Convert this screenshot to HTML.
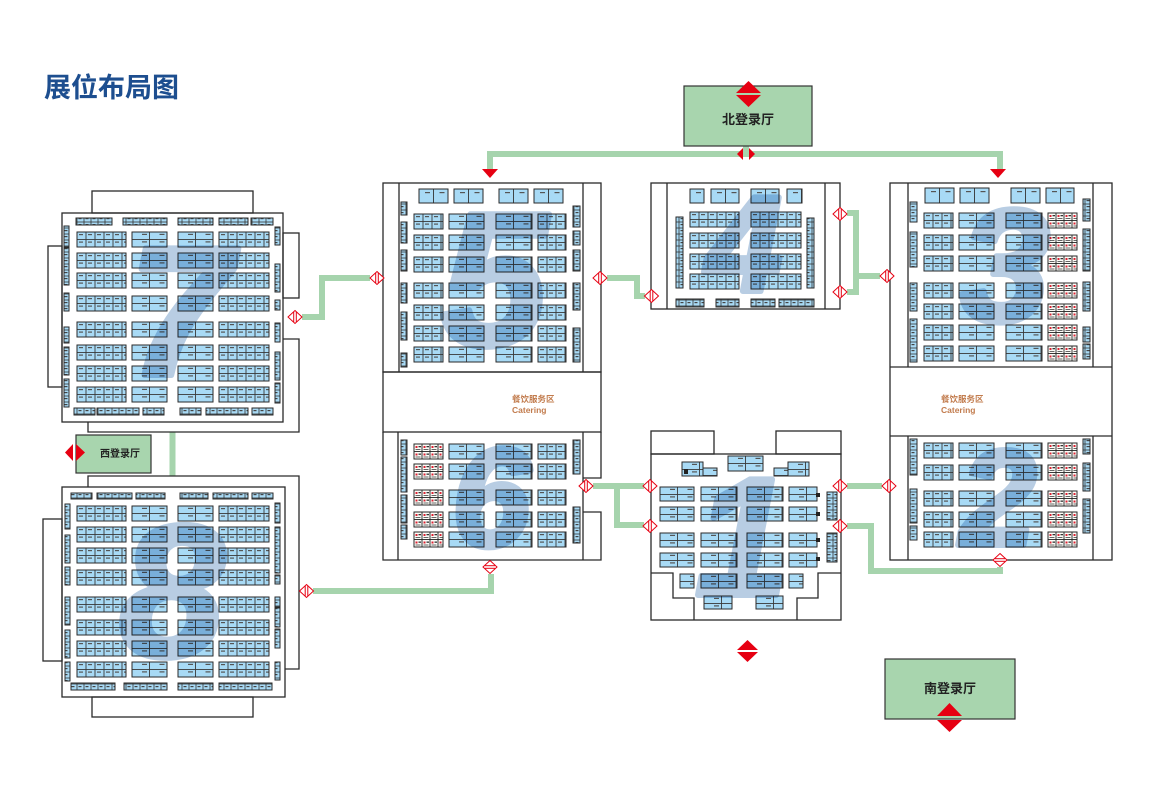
<!DOCTYPE html>
<html><head><meta charset="utf-8"><style>
html,body{margin:0;padding:0;background:#fff;}
svg{display:block;}
.o{fill:none;stroke:#2a2a2a;stroke-width:1.3;}
.b{stroke:#2a2a2a;stroke-width:1;}
.g{fill:none;stroke:#a6d4ad;stroke-width:6;}
.num{font-family:"Liberation Sans",sans-serif;font-weight:bold;font-style:italic;fill:#b8cde3;stroke:#b8cde3;stroke-width:6;stroke-linejoin:round;mix-blend-mode:multiply;text-anchor:middle;}
.lob{fill:#a8d5ae;stroke:#333;stroke-width:1.2;}
.lt{font-family:"Liberation Sans","Noto Sans CJK SC",sans-serif;font-weight:bold;fill:#222;text-anchor:middle;}
.cat{font-family:"Liberation Sans","Noto Sans CJK SC",sans-serif;font-weight:bold;fill:#c27c4e;font-size:8.5px;}
</style></head><body>
<svg width="1156" height="789" viewBox="0 0 1156 789" xmlns="http://www.w3.org/2000/svg">
<defs>
<pattern id="pc" width="9" height="7.5" patternUnits="userSpaceOnUse"><rect width="9" height="7.5" fill="#a8daf5" stroke="#3a3a3a" stroke-width="0.9"/><rect x="2" y="2" width="4" height="1.2" fill="#555"/></pattern>
<pattern id="pb" width="17.5" height="7.5" patternUnits="userSpaceOnUse"><rect width="17.5" height="7.5" fill="#a8daf5" stroke="#3a3a3a" stroke-width="0.9"/><rect x="10" y="1.8" width="5" height="1.2" fill="#555"/></pattern>
<pattern id="pw" width="8" height="7.5" patternUnits="userSpaceOnUse"><rect width="8" height="7.5" fill="#fdfdf8" stroke="#222" stroke-width="0.9"/><rect x="1.5" y="2" width="2" height="2" fill="#d23"/><rect x="4.5" y="2" width="2.5" height="1.3" fill="#333"/><rect x="1.5" y="5" width="5" height="1" fill="#666"/></pattern>
<pattern id="ps" width="7" height="6" patternUnits="userSpaceOnUse"><rect width="7" height="6" fill="#a8daf5" stroke="#333" stroke-width="0.8"/><rect x="1.5" y="2" width="3" height="1.2" fill="#444"/></pattern>
<pattern id="pt" width="14.5" height="15" patternUnits="userSpaceOnUse"><rect width="14.5" height="15" fill="#a8daf5" stroke="#333" stroke-width="0.9"/><rect x="6" y="3" width="5" height="1.2" fill="#555"/></pattern>
<g id="r7"><rect class="b" transform="translate(77,0)" width="49" height="15" fill="url(#pc)"/><rect class="b" transform="translate(132,0)" width="35" height="15" fill="url(#pb)"/><rect class="b" transform="translate(178,0)" width="35" height="15" fill="url(#pb)"/><rect class="b" transform="translate(219,0)" width="50" height="15" fill="url(#pc)"/></g>
<g id="r5"><rect class="b" transform="translate(414,0)" width="29" height="15" fill="url(#pc)"/><rect class="b" transform="translate(449,0)" width="35" height="15" fill="url(#pb)"/><rect class="b" transform="translate(496,0)" width="36" height="15" fill="url(#pb)"/><rect class="b" transform="translate(538,0)" width="28" height="15" fill="url(#pc)"/></g>
<g id="r6"><rect class="b" transform="translate(414,0)" width="29" height="15" fill="url(#pw)"/><rect class="b" transform="translate(449,0)" width="35" height="15" fill="url(#pb)"/><rect class="b" transform="translate(496,0)" width="36" height="15" fill="url(#pb)"/><rect class="b" transform="translate(538,0)" width="28" height="15" fill="url(#pc)"/></g>
<g id="r3"><rect class="b" transform="translate(924,0)" width="29" height="15" fill="url(#pc)"/><rect class="b" transform="translate(959,0)" width="35" height="15" fill="url(#pb)"/><rect class="b" transform="translate(1006,0)" width="36" height="15" fill="url(#pb)"/><rect class="b" transform="translate(1048,0)" width="29" height="15" fill="url(#pw)"/></g>
<g id="r4"><rect class="b" transform="translate(690,0)" width="49" height="15" fill="url(#pc)"/><rect class="b" transform="translate(751,0)" width="50" height="15" fill="url(#pc)"/></g>
<g id="r1"><rect class="b" transform="translate(660,0)" width="34" height="14" fill="url(#pb)"/><rect class="b" transform="translate(701,0)" width="36" height="14" fill="url(#pb)"/><rect class="b" transform="translate(747,0)" width="36" height="14" fill="url(#pb)"/><rect class="b" transform="translate(789,0)" width="28" height="14" fill="url(#pb)"/></g>
<g id="dv"><polygon points="0,-6.5 7,0 0,6.5 -7,0" fill="#fff" stroke="#e60012" stroke-width="1"/><line x1="-1.3" y1="-5" x2="-1.3" y2="5" stroke="#e60012" stroke-width="1"/><line x1="1.3" y1="-5" x2="1.3" y2="5" stroke="#e60012" stroke-width="1"/></g>
<g id="dh"><polygon points="0,-6.5 7,0 0,6.5 -7,0" fill="#fff" stroke="#e60012" stroke-width="1"/><line x1="-5" y1="-1.3" x2="5" y2="-1.3" stroke="#e60012" stroke-width="1"/><line x1="-5" y1="1.3" x2="5" y2="1.3" stroke="#e60012" stroke-width="1"/></g>
</defs>

<!-- title -->
<text x="44" y="97" font-family="'Liberation Sans','Noto Sans CJK SC',sans-serif" font-weight="bold" font-size="27" fill="#1d4e8f">展位布局图</text>

<!-- green connectors -->
<path class="g" d="M302,317 H322 V278 H370"/>
<path class="g" d="M313,591 H491 V574"/>
<path class="g" d="M607,278 H637 V296 H645"/>
<path class="g" d="M847,213 H856 V292 H847 M856,276 H880"/>
<path class="g" d="M490,170 V154 H1000 V170"/>
<path class="g" d="M746,146 V154"/>
<path class="g" d="M593,486 H644 M617,486 V525 H644"/>
<path class="g" d="M847,486 H882"/>
<path class="g" d="M847,526 H871 V571 H1000 V567"/>
<path class="g" d="M172.5,432 V476"/>

<!-- HALL 7 -->
<rect class="o" x="62" y="213" width="221" height="209"/>
<rect class="o" x="92" y="191" width="161" height="22"/>
<rect class="o" x="48" y="246" width="14" height="141"/>
<rect class="o" x="283" y="233" width="16" height="65"/>
<polyline class="o" points="283,339 299,339 299,432 88,432 88,422"/>
<use href="#r7" y="232"/><use href="#r7" y="253"/><use href="#r7" y="273"/><use href="#r7" y="296"/><use href="#r7" y="322"/><use href="#r7" y="345"/><use href="#r7" y="366"/><use href="#r7" y="387"/>
<g fill="url(#ps)" class="b">
<rect x="76" y="218" width="36" height="7"/><rect x="123" y="218" width="44" height="7"/><rect x="178" y="218" width="35" height="7"/><rect x="219" y="218" width="29" height="7"/><rect x="251" y="218" width="22" height="7"/>
<rect x="74" y="408" width="21" height="7"/><rect x="97" y="408" width="42" height="7"/><rect x="143" y="408" width="21" height="7"/><rect x="180" y="408" width="21" height="7"/><rect x="206" y="408" width="42" height="7"/><rect x="252" y="408" width="21" height="7"/>
<rect x="64" y="226" width="5" height="21"/><rect x="64" y="248" width="5" height="37"/><rect x="64" y="293" width="5" height="18"/><rect x="64" y="327" width="5" height="16"/><rect x="64" y="347" width="5" height="28"/><rect x="64" y="379" width="5" height="28"/>
<rect x="275" y="227" width="5" height="18"/><rect x="275" y="264" width="5" height="28"/><rect x="275" y="300" width="5" height="10"/><rect x="275" y="323" width="5" height="19"/><rect x="275" y="352" width="5" height="28"/><rect x="275" y="383" width="5" height="20"/>
</g>

<!-- HALL 8 -->
<rect class="o" x="62" y="487" width="223" height="210"/>
<polyline class="o" points="88,487 88,476 299,476 299,669 285,669"/>
<rect class="o" x="43" y="519" width="19" height="142"/>
<rect class="o" x="92" y="697" width="161" height="20"/>
<use href="#r7" y="506"/><use href="#r7" y="527"/><use href="#r7" y="548"/><use href="#r7" y="570"/><use href="#r7" y="597"/><use href="#r7" y="620"/><use href="#r7" y="641"/><use href="#r7" y="662"/>
<g fill="url(#ps)" class="b">
<rect x="71" y="493" width="21" height="6"/><rect x="97" y="493" width="35" height="6"/><rect x="136" y="493" width="29" height="6"/><rect x="180" y="493" width="28" height="6"/><rect x="213" y="493" width="35" height="6"/><rect x="252" y="493" width="21" height="6"/>
<rect x="71" y="683" width="44" height="7"/><rect x="124" y="683" width="43" height="7"/><rect x="178" y="683" width="35" height="7"/><rect x="219" y="683" width="53" height="7"/>
<rect x="65" y="504" width="5" height="25"/><rect x="65" y="535" width="5" height="28"/><rect x="65" y="567" width="5" height="18"/><rect x="65" y="597" width="5" height="28"/><rect x="65" y="630" width="5" height="28"/><rect x="65" y="662" width="5" height="19"/>
<rect x="275" y="503" width="5" height="20"/><rect x="275" y="527" width="5" height="46"/><rect x="275" y="575" width="5" height="9"/><rect x="275" y="597" width="5" height="10"/><rect x="275" y="608" width="5" height="19"/><rect x="275" y="629" width="5" height="19"/><rect x="275" y="662" width="5" height="18"/>
</g>

<!-- West lobby -->
<rect class="lob" x="76" y="435" width="75" height="38"/>
<text class="lt" x="120" y="457" font-size="10">西登录厅</text>
<polygon points="73,444 73,461 65,452.5" fill="#e60012"/>
<polygon points="76,444 76,461 85,452.5" fill="#e60012"/>

<!-- HALL 5 / 6 block -->
<rect class="o" x="383" y="183" width="218" height="189"/>
<line class="o" x1="399" y1="183" x2="399" y2="372"/><line class="o" x1="583" y1="183" x2="583" y2="372"/>
<rect class="o" x="383" y="372" width="218" height="60"/>
<polyline class="o" points="383,432 383,560 601,560 601,512 583,512"/>
<polyline class="o" points="583,478 601,478 601,432"/>
<line class="o" x1="398" y1="432" x2="398" y2="560"/><line class="o" x1="583" y1="432" x2="583" y2="560"/>
<text class="cat" x="512" y="402">餐饮服务区</text>
<text class="cat" x="512" y="413">Catering</text>
<g class="b" fill="url(#pt)">
<rect transform="translate(419,189)" width="29" height="14"/><rect transform="translate(454,189)" width="29" height="14"/><rect transform="translate(499,189)" width="29" height="14"/><rect transform="translate(534,189)" width="29" height="14"/>
</g>
<use href="#r5" y="214"/><use href="#r5" y="235"/><use href="#r5" y="257"/><use href="#r5" y="283"/><use href="#r5" y="305"/><use href="#r5" y="326"/><use href="#r5" y="347"/>
<use href="#r6" y="444"/><use href="#r6" y="464"/><use href="#r6" y="490"/><use href="#r6" y="512"/><use href="#r6" y="532"/>
<g fill="url(#ps)" class="b">
<rect x="401" y="202" width="6" height="13"/><rect x="401" y="222" width="6" height="21"/><rect x="401" y="250" width="6" height="21"/><rect x="401" y="283" width="6" height="20"/><rect x="401" y="312" width="6" height="28"/><rect x="401" y="353" width="6" height="14"/>
<rect x="573" y="206" width="7" height="21"/><rect x="573" y="231" width="7" height="14"/><rect x="573" y="250" width="7" height="21"/><rect x="573" y="283" width="7" height="27"/><rect x="573" y="328" width="7" height="34"/>
<rect x="401" y="440" width="6" height="15"/><rect x="401" y="457" width="6" height="35"/><rect x="401" y="495" width="6" height="28"/><rect x="401" y="525" width="6" height="14"/>
<rect x="573" y="440" width="7" height="34"/><rect x="573" y="507" width="7" height="36"/>
</g>

<!-- HALL 4 -->
<rect class="o" x="651" y="183" width="189" height="126"/>
<line class="o" x1="667" y1="183" x2="667" y2="309"/><line class="o" x1="825" y1="183" x2="825" y2="309"/>
<g class="b" fill="url(#pt)">
<rect transform="translate(690,189)" width="14" height="14"/><rect transform="translate(711,189)" width="28" height="14"/><rect transform="translate(751,189)" width="28" height="14"/><rect transform="translate(787,189)" width="15" height="14"/>
</g>
<use href="#r4" y="212"/><use href="#r4" y="233"/><use href="#r4" y="254"/><use href="#r4" y="274"/>
<g fill="url(#ps)" class="b">
<rect x="676" y="299" width="28" height="8"/><rect x="716" y="299" width="23" height="8"/><rect x="751" y="299" width="24" height="8"/><rect x="779" y="299" width="35" height="8"/>
<rect x="676" y="217" width="7" height="71"/><rect x="807" y="218" width="7" height="70"/>
</g>

<!-- North lobby -->
<rect class="lob" x="684" y="86" width="128" height="60"/>
<text class="lt" x="748" y="124" font-size="13">北登录厅</text>
<polygon points="736,93 761,93 748.5,81" fill="#e60012"/>
<polygon points="736,95 761,95 748.5,107" fill="#e60012"/>
<polygon points="743,148 743,160 737,154" fill="#e60012"/>
<polygon points="749,148 749,160 755,154" fill="#e60012"/>
<polygon points="482,169 498,169 490,178" fill="#e60012"/>
<polygon points="990,169 1006,169 998,178" fill="#e60012"/>

<!-- HALL 3 / 2 block -->
<rect class="o" x="890" y="183" width="222" height="377"/>
<line class="o" x1="890" y1="367" x2="1112" y2="367"/><line class="o" x1="890" y1="436" x2="1112" y2="436"/>
<line class="o" x1="908" y1="183" x2="908" y2="367"/><line class="o" x1="1093" y1="183" x2="1093" y2="367"/>
<line class="o" x1="908" y1="436" x2="908" y2="560"/><line class="o" x1="1093" y1="436" x2="1093" y2="560"/>
<text class="cat" x="941" y="402">餐饮服务区</text>
<text class="cat" x="941" y="413">Catering</text>
<g class="b" fill="url(#pt)">
<rect transform="translate(925,188)" width="29" height="15"/><rect transform="translate(960,188)" width="29" height="15"/><rect transform="translate(1011,188)" width="29" height="15"/><rect transform="translate(1046,188)" width="28" height="15"/>
</g>
<use href="#r3" y="213"/><use href="#r3" y="235"/><use href="#r3" y="256"/><use href="#r3" y="283"/><use href="#r3" y="304"/><use href="#r3" y="325"/><use href="#r3" y="346"/>
<use href="#r3" y="443"/><use href="#r3" y="465"/><use href="#r3" y="491"/><use href="#r3" y="512"/><use href="#r3" y="532"/>
<g fill="url(#ps)" class="b">
<rect x="910" y="202" width="7" height="20"/><rect x="910" y="232" width="7" height="35"/><rect x="910" y="283" width="7" height="28"/><rect x="910" y="319" width="7" height="43"/>
<rect x="1083" y="199" width="7" height="22"/><rect x="1083" y="229" width="7" height="42"/><rect x="1083" y="282" width="7" height="29"/><rect x="1083" y="327" width="7" height="15"/><rect x="1083" y="344" width="7" height="15"/>
<rect x="910" y="439" width="7" height="36"/><rect x="910" y="489" width="7" height="34"/><rect x="910" y="526" width="7" height="14"/>
<rect x="1083" y="439" width="7" height="15"/><rect x="1083" y="463" width="7" height="28"/><rect x="1083" y="499" width="7" height="34"/>
</g>

<!-- HALL 1 -->
<rect class="o" x="651" y="454" width="190" height="166"/>
<rect class="o" x="651" y="431" width="63" height="23"/>
<rect class="o" x="776" y="431" width="65" height="23"/>
<polyline class="o" points="651,573 673,573 673,598 694,598 694,620"/>
<polyline class="o" points="841,573 818,573 818,598 797,598 797,620"/>
<g class="b" fill="url(#pb)">
<rect transform="translate(728,456)" width="35" height="15"/><rect transform="translate(682,462)" width="21" height="14"/><rect transform="translate(703,468)" width="14" height="8"/><rect transform="translate(788,462)" width="21" height="14"/><rect transform="translate(774,468)" width="14" height="8"/>
<rect transform="translate(680,574)" width="14" height="14"/><rect transform="translate(701,574)" width="36" height="14"/><rect transform="translate(747,574)" width="36" height="14"/><rect transform="translate(789,574)" width="14" height="14"/>
<rect transform="translate(704,596)" width="28" height="13"/><rect transform="translate(756,596)" width="27" height="13"/>
</g>
<use href="#r1" y="487"/><use href="#r1" y="507"/><use href="#r1" y="533"/><use href="#r1" y="553"/>
<g fill="url(#ps)" class="b"><rect x="827" y="492" width="10" height="28"/><rect x="827" y="533" width="10" height="29"/></g>
<g fill="#222"><rect x="816" y="493" width="4" height="4"/><rect x="816" y="512" width="4" height="4"/><rect x="816" y="538" width="4" height="4"/><rect x="816" y="557" width="4" height="4"/><rect x="684" y="469" width="4" height="5"/></g>

<!-- South arrow below hall 1 -->
<polygon points="737,650 758,650 747.5,640" fill="#e60012"/>
<polygon points="737,652 758,652 747.5,662" fill="#e60012"/>

<!-- South lobby -->
<rect class="lob" x="885" y="659" width="130" height="60"/>
<text class="lt" x="950" y="693" font-size="13">南登录厅</text>
<polygon points="937,716 962,716 949.5,703" fill="#e60012"/>
<polygon points="937,720 962,720 949.5,732" fill="#e60012"/>

<!-- door markers -->
<use href="#dv" x="295" y="317"/>
<use href="#dv" x="306.5" y="591"/>
<use href="#dv" x="377" y="278"/>
<use href="#dv" x="600" y="278"/>
<use href="#dv" x="651.5" y="296"/>
<use href="#dv" x="840" y="214"/>
<use href="#dv" x="840" y="292"/>
<use href="#dv" x="887" y="276"/>
<use href="#dv" x="889" y="486"/>
<use href="#dh" x="1000" y="560"/>
<use href="#dv" x="586" y="486"/>
<use href="#dh" x="490" y="567"/>
<use href="#dv" x="650" y="486"/>
<use href="#dv" x="650" y="526"/>
<use href="#dv" x="840" y="486"/>
<use href="#dv" x="840" y="526"/>

<!-- big numerals -->
<text class="num" x="180" y="375" font-size="184">7</text>
<text class="num" x="494" y="345" font-size="190">5</text>
<text class="num" x="744" y="291" font-size="136">4</text>
<text class="num" x="1005" y="321" font-size="160">3</text>
<text class="num" x="998" y="545" font-size="136">2</text>
<text class="num" x="742" y="595" font-size="168">1</text>
<text class="num" x="491" y="546" font-size="140">6</text>
<text class="num" x="172" y="656" font-size="188">8</text>
</svg>
</body></html>
